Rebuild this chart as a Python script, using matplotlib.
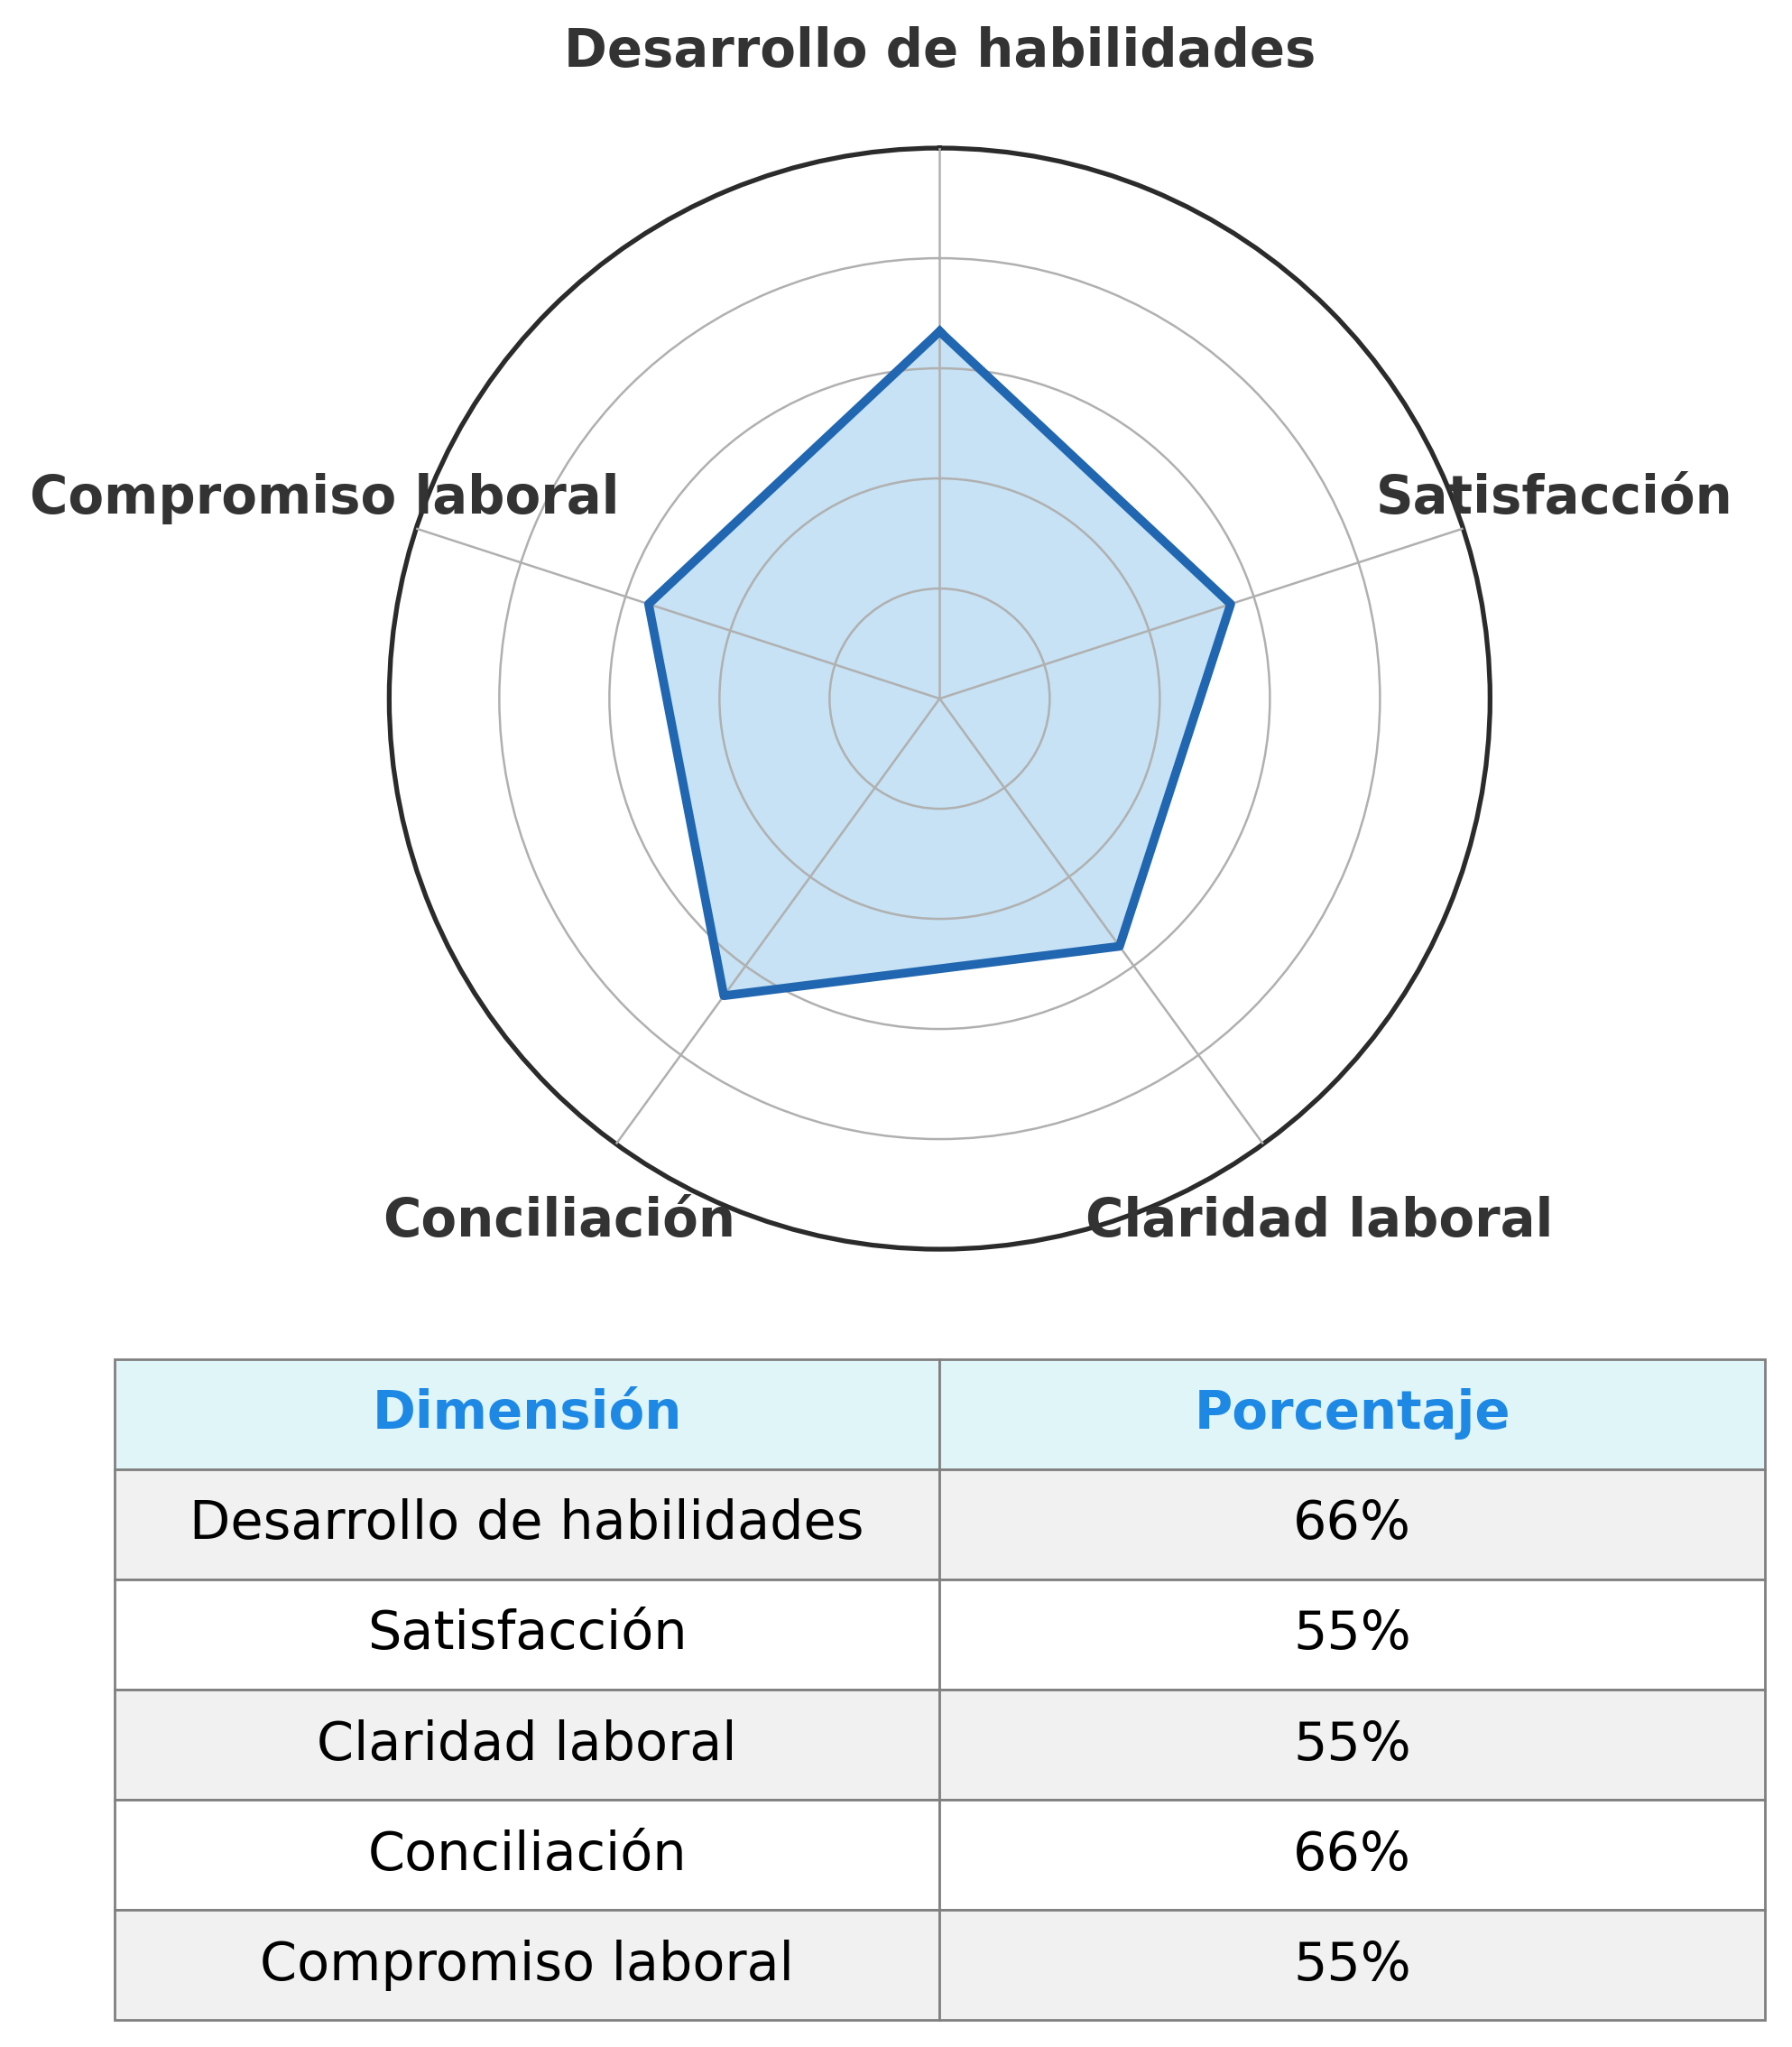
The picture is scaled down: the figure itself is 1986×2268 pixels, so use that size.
import numpy as np
import matplotlib
matplotlib.use("Agg")
import matplotlib.pyplot as plt

# datos
dimensiones = ['Desarrollo de habilidades', 'Satisfacción', 'Claridad laboral',
               'Conciliación', 'Compromiso laboral']
porcentajes = [66.7, 55.6, 55.6, 66.7, 55.6]
encabezados = ['Dimensión', 'Porcentaje']

azul = '#2166b0'
gris_texto = '#333333'

fig = plt.figure(figsize=(9.93, 11.34), dpi=200)

# --- radar ---
ax = fig.add_axes([0.2172, 0.3897, 0.6143, 0.538], projection='polar')
n = len(dimensiones)
angulos = np.linspace(0, 2 * np.pi, n, endpoint=False)
ang_cerrado = np.append(angulos, angulos[0])
val_cerrado = np.append(porcentajes, porcentajes[0])

ax.set_theta_offset(np.pi / 2)
ax.set_theta_direction(-1)
ax.set_ylim(0, 100)
ax.set_yticks([20, 40, 60, 80])
ax.set_yticklabels([])
ax.set_xticks(angulos)
ax.set_xticklabels([])
ax.set_axisbelow(False)
ax.grid(True, color='#b0b0b0', linewidth=0.9)
ax.spines['polar'].set_color('#2b2b2b')
ax.spines['polar'].set_linewidth(1.9)
ax.tick_params(length=0)

ax.fill(ang_cerrado, val_cerrado, color='#8fc7eb', alpha=0.5, zorder=1, linewidth=0)
ax.plot(ang_cerrado, val_cerrado, color=azul, linewidth=3.5, zorder=3)

for a, nombre in zip(angulos, dimensiones):
    ax.text(a, 117.5, nombre, ha='center', va='center', fontsize=20.8,
            fontweight='bold', color=gris_texto, clip_on=False)

# --- tabla ---
axt = fig.add_axes([0.0639, 0.0132, 0.921, 0.3228])
axt.axis('off')
filas = [[d, f'{int(p)}%'] for d, p in zip(dimensiones, porcentajes)]
tabla = axt.table(cellText=filas, colLabels=encabezados, cellLoc='center',
                  loc='center', bbox=[0, 0, 1, 1])
tabla.auto_set_font_size(False)
for (r, c), celda in tabla.get_celld().items():
    celda.set_edgecolor('#808080')
    celda.set_linewidth(1.0)
    if r == 0:
        celda.set_facecolor('#dff5f8')
        celda.get_text().set_color('#1e88e5')
        celda.get_text().set_fontweight('bold')
        celda.get_text().set_fontsize(20.8)
    else:
        celda.set_facecolor('#f1f1f1' if r % 2 == 1 else 'white')
        celda.get_text().set_color('black')
        celda.get_text().set_fontsize(21.2)

fig.savefig('out.png', dpi=200)
